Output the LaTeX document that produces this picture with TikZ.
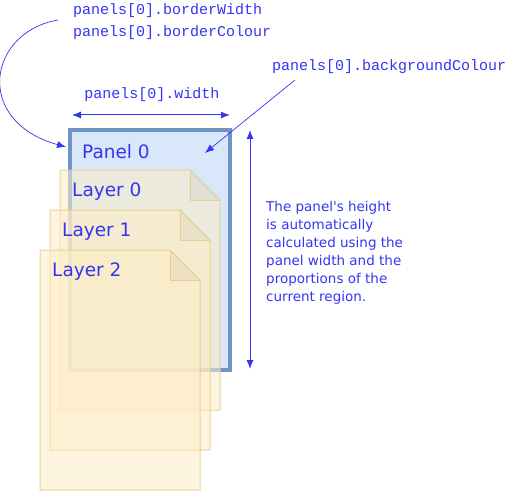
\documentclass[tikz,border=0pt]{standalone}
\usepackage{fontspec}
\setmainfont{DejaVu Sans}
\setmonofont{Liberation Mono}
\usetikzlibrary{arrows.meta,positioning}
\definecolor{inkblue}{HTML}{3434F4}
\definecolor{panelfill}{HTML}{D8E7F9}
\definecolor{panelrule}{HTML}{7094C6}
\definecolor{layerfill}{HTML}{FDEDC8}
\definecolor{layerrule}{HTML}{E6CC88}

\begin{document}
\begin{tikzpicture}[x=1pt,y=-1pt,
  code/.style={font=\ttfamily\fontsize{15}{15}\selectfont, text=inkblue, inner sep=0pt, anchor=west},
  title/.style={font=\fontsize{18.5}{19}\selectfont, text=inkblue, inner sep=0pt, anchor=west},
  pointer/.style={draw=inkblue, line width=0.7pt, -{Latex[length=9pt,width=7pt]}},
  measure/.style={draw=inkblue, line width=1pt, {Latex[length=9pt,width=7pt]}-{Latex[length=9pt,width=7pt]}},
  layer/.style={draw=layerrule, fill=layerfill, fill opacity=0.56, draw opacity=0.85, line width=1pt}]
\useasboundingbox (0,0) rectangle (522,492);
\node[draw=panelrule, fill=panelfill, line width=4pt, minimum width=160pt, minimum height=240pt, inner sep=0pt] (panel) at (150,250) {};
\node[title] (p0) at (82,152) {Panel 0};
% the layers of the panel
\foreach \i in {0,1,2} {
  \begin{scope}[shift={(60-10*\i,170+40*\i)}]
    \draw[layer] (0,0) -- (130,0) -- (160,30) -- (160,240) -- (0,240) -- cycle;
    \fill[black, opacity=0.04] (130,0) -- (130,30) -- (160,30) -- cycle;
    \draw[layerrule, draw opacity=0.85, line width=1pt] (130,0) -- (130,30) -- (160,30);
    \node[title] (layer\i) at (12,22) {Layer \i};
  \end{scope}
}
\node[code] (bw) at (73,11) {panels[0].borderWidth};
\node[code] (bc) at (73,33) {panels[0].borderColour};
\node[code] (bg) at (272,67) {panels[0].backgroundColour};
\node[code, anchor=center] (wd) at (152,95) {panels[0].width};
\node[font=\fontsize{13.5}{18}\selectfont, text=inkblue, inner sep=0pt, anchor=north west, align=left] (note) at (266,201)
  {The panel\textquotesingle s height\\is automatically\\calculated using the\\panel width and the\\proportions of the\\current region.};
\coordinate (bwstart) at (58,20);
\coordinate (bwend) at (66,147);
\coordinate (bgstart) at (295,80);
\coordinate (bgend) at (205,153);
\coordinate (wl) at (72,115);
\coordinate (wr) at (230,115);
\coordinate (ht) at (250,130);
\coordinate (hb) at (250,369);
\draw[pointer] (bwstart) .. controls (-12,32) and (-27,121) .. (bwend);
\draw[pointer] (bgstart) -- (bgend);
\draw[measure] (wl) -- (wr);
\draw[measure] (ht) -- (hb);
\end{tikzpicture}
\end{document}
